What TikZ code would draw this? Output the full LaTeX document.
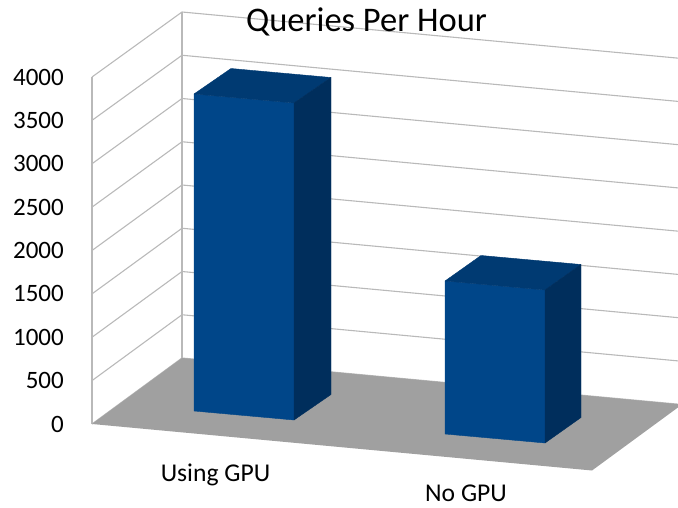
\documentclass[tikz,border=0pt]{standalone}
\usepackage{fontspec}
\setmainfont{Carlito}
\definecolor{gridgray}{RGB}{185,185,185}
\definecolor{floorgray}{RGB}{160,160,160}
\definecolor{barfront}{RGB}{0,70,137}
\definecolor{bartop}{RGB}{0,58,114}
\definecolor{barside}{RGB}{0,46,92}
\begin{document}
\begin{tikzpicture}[x=1pt,y=-1pt,
  gridline/.style={draw=gridgray,line width=1.1pt},
  face/.style={fill=#1,draw=#1,line width=0.4pt,line join=round},
  ticklabel/.style={anchor=east,inner sep=0pt,font=\fontsize{25}{30}\selectfont},
  catlabel/.style={anchor=base,inner sep=0pt,font=\fontsize{25.6}{30}\selectfont},
  titlelabel/.style={anchor=base,inner sep=0pt,font=\fontsize{34.5}{40}\selectfont}]
\useasboundingbox (0,0) rectangle (678,508);
\begin{scope}
  \clip (0,0) rectangle (678,508);
  % side wall and back wall grid lines, one per 500 step
  \foreach \k in {0,...,8} {
    \draw[gridline] (92,{424-43.375*\k}) -- (182,{358-43.25*\k})
      -- (700,{406.2-43.25*\k});
  }
  % wall edges
  \coordinate (wfl) at (92,424);
  \coordinate (wft) at (92,77);
  \coordinate (wbl) at (182,358);
  \coordinate (wbt) at (182,12);
  \draw[gridline] (wft) -- (wfl);
  \draw[gridline] (wbt) -- (wbl);
  % floor
  \coordinate (ffr) at (592,470.5);
  \coordinate (fbr) at (682,404.5);
  \fill[floorgray] (wfl) -- (ffr) -- (fbr) -- (wbl) -- cycle;
  % bar: Using GPU
  \coordinate (a1) at (194,411);
  \coordinate (a2) at (294,420);
  \coordinate (a3) at (294,103);
  \coordinate (a4) at (194,94);
  \coordinate (a5) at (331,77.5);
  \coordinate (a6) at (231,68.5);
  \coordinate (a7) at (331,394.5);
  \path[face=barfront] (a1) -- (a2) -- (a3) -- (a4) -- cycle;
  \path[face=bartop] (a4) -- (a3) -- (a5) -- (a6) -- cycle;
  \path[face=barside] (a2) -- (a7) -- (a5) -- (a3) -- cycle;
  % bar: No GPU
  \coordinate (b1) at (445,434);
  \coordinate (b2) at (545,443);
  \coordinate (b3) at (545,290);
  \coordinate (b4) at (445,281);
  \coordinate (b5) at (581,264.5);
  \coordinate (b6) at (481,255.5);
  \coordinate (b7) at (581,417.5);
  \path[face=barfront] (b1) -- (b2) -- (b3) -- (b4) -- cycle;
  \path[face=bartop] (b4) -- (b3) -- (b5) -- (b6) -- cycle;
  \path[face=barside] (b2) -- (b7) -- (b5) -- (b3) -- cycle;
\end{scope}
% value axis labels
\foreach \k in {0,...,8} {
  \pgfmathtruncatemacro\tickval{\k*500}
  \node[ticklabel] (tick\k) at (64,{424-43.375*\k}) {\tickval};
}
% category labels
\node[catlabel] (catA) at (215.5,481.5) {Using GPU};
\node[catlabel] (catB) at (466,501.5) {No GPU};
% title
\node[titlelabel] (title) at (366.5,32) {Queries Per Hour};
\end{tikzpicture}
\end{document}
